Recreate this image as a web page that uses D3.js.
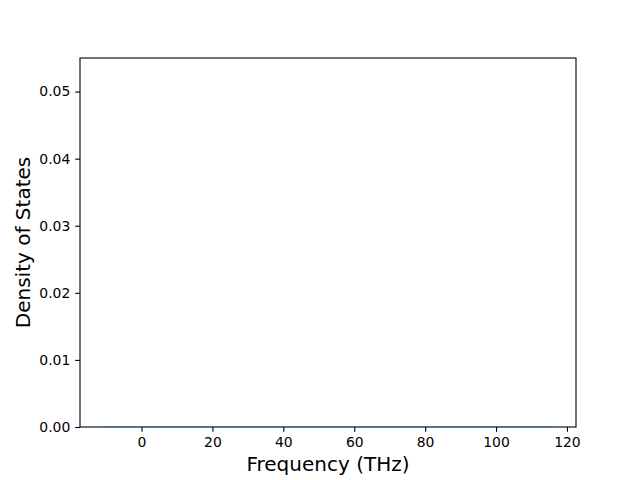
<!DOCTYPE html>
<html><head><meta charset="utf-8">
<script src="https://cdn.jsdelivr.net/npm/d3@7"></script>
<style>body{margin:0;background:#fff}svg{display:block}text{font-family:"DejaVu Sans",sans-serif}</style>
</head><body>
<script>
const freq = [-11.0, 0, 10, 20, 30, 40, 50, 60, 70, 80, 90, 100, 110, 116.2];
const dos  = [0, 0, 0, 0, 0, 0, 0, 0, 0, 0, 0, 0, 0, 0];
const xTicks = [0, 20, 40, 60, 80, 100, 120];
const yTicks = [0.00, 0.01, 0.02, 0.03, 0.04, 0.05];
const xLabel = "Frequency (THz)";
const yLabel = "Density of States";

const W = 640, H = 480;
const m = {l: 80, r: 64, t: 58, b: 53};
const svg = d3.select("body").append("svg").attr("width", W).attr("height", H);
const pad = (d3.max(freq) - d3.min(freq)) * 0.05;
const x = d3.scaleLinear().domain([d3.min(freq) - pad, d3.max(freq) + pad]).range([m.l, W - m.r]);
const y = d3.scaleLinear().domain([0, 0.055]).range([H - m.b, m.t]);

svg.append("clipPath").attr("id", "clip").append("rect")
  .attr("x", m.l).attr("y", m.t).attr("width", W - m.l - m.r).attr("height", H - m.t - m.b);

const xa = svg.append("g").attr("transform", `translate(0,${H - m.b})`)
  .call(d3.axisBottom(x).tickValues(xTicks).tickFormat(d3.format("d")).tickSize(4.86).tickPadding(4.9));
const ya = svg.append("g").attr("transform", `translate(${m.l},0)`)
  .call(d3.axisLeft(y).tickValues(yTicks).tickFormat(d3.format(".2f")).tickSize(4.86).tickPadding(4.9));
[xa, ya].forEach(a => {
  a.select(".domain").remove();
  a.selectAll(".tick line").attr("stroke", "#000").attr("stroke-width", 1.1);
  a.selectAll(".tick text").attr("font-size", 13.9).attr("fill", "#000").attr("font-family", "DejaVu Sans");
});

svg.append("rect").attr("x", m.l).attr("y", m.t).attr("width", W - m.l - m.r).attr("height", H - m.t - m.b)
  .attr("fill", "none").attr("stroke", "#000").attr("stroke-width", 1.1);

const line = d3.line().x((d, i) => x(freq[i])).y(d => y(d));
svg.append("path").datum(dos).attr("d", line).attr("fill", "none")
  .attr("stroke", "#1f77b4").attr("stroke-width", 1.5).attr("clip-path", "url(#clip)");

svg.append("text").attr("x", (m.l + W - m.r) / 2).attr("y", 471).attr("text-anchor", "middle")
  .attr("font-size", 20).text(xLabel);
svg.append("text").attr("transform", `translate(30,${(m.t + H - m.b) / 2}) rotate(-90)`)
  .attr("text-anchor", "middle").attr("font-size", 20).text(yLabel);
</script>
</body></html>
